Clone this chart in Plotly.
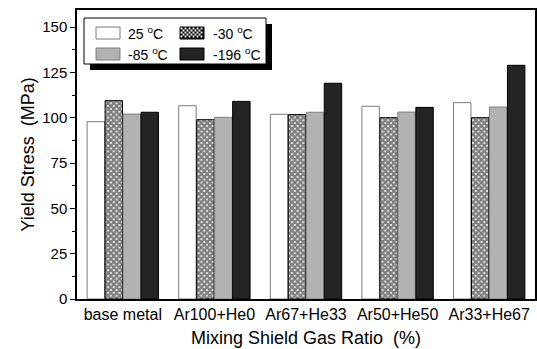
import plotly.graph_objects as go

categories = ["base metal", "Ar100+He0", "Ar67+He33", "Ar50+He50", "Ar33+He67"]
series_names = ["25 <sup>o</sup>C", "-30 <sup>o</sup>C", "-85 <sup>o</sup>C", "-196 <sup>o</sup>C"]
v_25 = [97.8, 106.6, 101.9, 106.3, 108.3]
v_m30 = [109.4, 98.9, 101.7, 100.0, 100.0]
v_m85 = [102.0, 100.2, 103.0, 103.1, 105.9]
v_m196 = [103.0, 109.0, 119.0, 105.7, 128.9]
y_ticks = [0, 25, 50, 75, 100, 125, 150]

W, H = 537, 349
L, R, T, B = 77, 2, 10, 50
PW, PH = W - L - R, H - T - B

def px(x):
    return (x - L) / PW

def py(y):
    return (H - B - y) / PH

FONT = "Liberation Sans, Arial, sans-serif"

styles = [
    dict(color="white", line=dict(color="#7a7a7a", width=1)),
    dict(color="white", line=dict(color="black", width=1),
         pattern=dict(shape="x", fgcolor="black", bgcolor="white", size=4, solidity=0.8)),
    dict(color="#b2b2b2", line=dict(color="#808080", width=1)),
    dict(color="#242424", line=dict(color="black", width=1)),
]

fig = go.Figure()
for name, vals, st in zip(series_names, [v_25, v_m30, v_m85, v_m196], styles):
    fig.add_trace(go.Bar(x=categories, y=vals, name=name, marker=st, showlegend=False))

shapes = []
# legend shadow and box
shapes.append(dict(type="rect", xref="paper", yref="paper", x0=px(90), x1=px(272), y0=py(70), y1=py(24),
                   fillcolor="black", line=dict(width=0), layer="above"))
shapes.append(dict(type="rect", xref="paper", yref="paper", x0=px(84), x1=px(266), y0=py(64), y1=py(18),
                   fillcolor="white", line=dict(color="black", width=1), layer="above"))

swatch_pos = [(96, 27), (180, 27), (96, 48), (180, 48)]
sw_w, sw_h = 24, 12
fills = ["white", "black", "#b2b2b2", "#242424"]
lines = ["#7a7a7a", "black", "#808080", "black"]
for (sx, sy), f, lc in zip(swatch_pos, fills, lines):
    shapes.append(dict(type="rect", xref="paper", yref="paper", x0=px(sx), x1=px(sx + sw_w),
                       y0=py(sy + sw_h), y1=py(sy), fillcolor=f, line=dict(color=lc, width=1), layer="above"))

# crosshatch texture for -30 swatch: white dots on black
sx, sy = swatch_pos[1]
path = ""
step = 4
for i in range(0, sw_w // step):
    for j in range(0, sw_h // step):
        for off in (0, 2):
            cx = sx + i * step + 1.5 + off
            cy = sy + j * step + 1.5 + off
            if cx >= sx + sw_w - 0.5 or cy >= sy + sw_h - 0.5:
                continue
            path += "M{:.5f},{:.5f} L{:.5f},{:.5f} L{:.5f},{:.5f} L{:.5f},{:.5f} Z ".format(
                px(cx - 0.9), py(cy - 0.9), px(cx + 0.9), py(cy - 0.9), px(cx + 0.9), py(cy + 0.9),
                px(cx - 0.9), py(cy + 0.9))
shapes.append(dict(type="path", xref="paper", yref="paper", path=path, fillcolor="white",
                   line=dict(width=0), layer="above"))

annotations = []
text_pos = [(126, 33), (211, 33), (126, 54), (211, 54)]
for (tx, ty), name in zip(text_pos, series_names):
    annotations.append(dict(xref="paper", yref="paper", x=px(tx), y=py(ty), text=name, showarrow=False,
                            xanchor="left", yanchor="middle", font=dict(family=FONT, size=14, color="black")))

fig.update_layout(
    width=W, height=H,
    margin=dict(l=L, r=R, t=T, b=B),
    plot_bgcolor="white", paper_bgcolor="white",
    barmode="group", bargap=0.215, bargroupgap=0.03,
    font=dict(family=FONT, color="black"),
    shapes=shapes, annotations=annotations,
    showlegend=False,
)
fig.update_xaxes(
    type="category", range=[-0.5, 4.5], automargin=False,
    showline=True, linecolor="black", linewidth=1.5, mirror=True,
    ticks="", tickfont=dict(size=16, family=FONT),
    title=dict(text="Mixing Shield Gas Ratio  (%)", font=dict(size=18, family=FONT), standoff=9),
    showgrid=False,
)
fig.update_yaxes(
    range=[0, 159.4], tickvals=y_ticks, automargin=False,
    showline=True, linecolor="black", linewidth=1.5, mirror=True,
    ticks="outside", ticklen=5, tickwidth=1, tickcolor="black",
    minor=dict(ticks="outside", ticklen=3, tickwidth=1, tickcolor="black", dtick=12.5, tick0=0, showgrid=False),
    tickfont=dict(size=15, family=FONT),
    title=dict(text="Yield Stress  (MPa)", font=dict(size=18, family=FONT), standoff=3),
    showgrid=False, zeroline=False,
)

fig.write_html("out.html", config={"displayModeBar": False},
               post_script="document.body.style.margin='0px';document.body.style.overflow='hidden';")
